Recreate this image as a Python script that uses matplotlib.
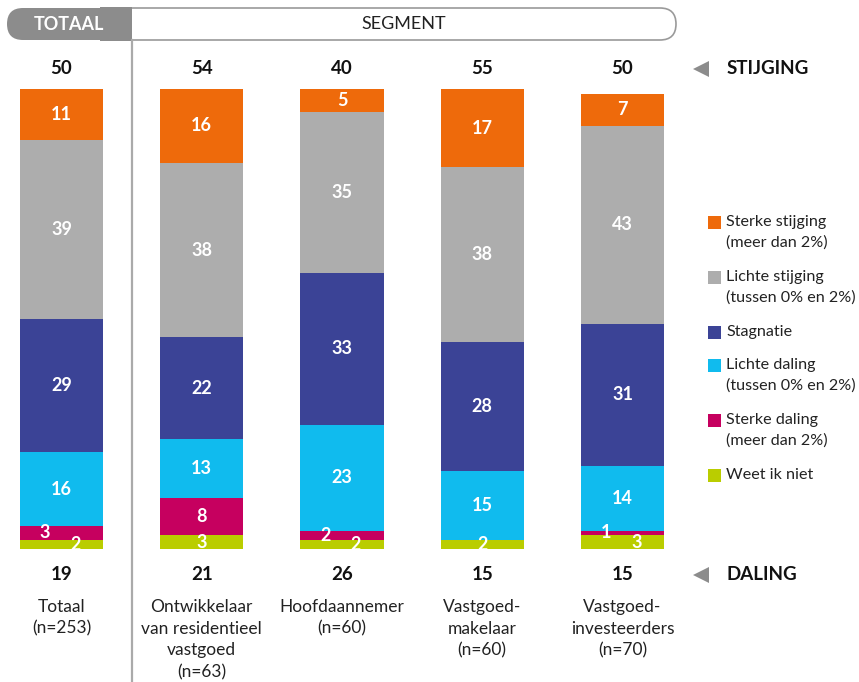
import numpy as np
import matplotlib
matplotlib.use("Agg")
import matplotlib.pyplot as plt
from matplotlib.patches import FancyBboxPatch, Rectangle, Polygon
from matplotlib.transforms import blended_transform_factory

plt.rcParams['font.family'] = ['Lato', 'DejaVu Sans']

# survey answers per segment (percentages), bottom to top of each bar
categories = ["Totaal\n(n=253)",
              "Ontwikkelaar\nvan residentieel\nvastgoed\n(n=63)",
              "Hoofdaannemer\n(n=60)",
              "Vastgoed-\nmakelaar\n(n=60)",
              "Vastgoed-\ninvesteerders\n(n=70)"]
weet_niet = [2, 3, 2, 2, 3]
sterke_daling = [3, 8, 2, 0, 1]
lichte_daling = [16, 13, 23, 15, 14]
stagnatie = [29, 22, 33, 28, 31]
lichte_stijging = [39, 38, 35, 38, 43]
sterke_stijging = [11, 16, 5, 17, 7]
stijging_totaal = [50, 54, 40, 55, 50]
daling_totaal = [19, 21, 26, 15, 15]

series = [weet_niet, sterke_daling, lichte_daling, stagnatie, lichte_stijging, sterke_stijging]
series_names = ["Weet ik niet", "Sterke daling\n(meer dan 2%)", "Lichte daling\n(tussen 0% en 2%)",
                "Stagnatie", "Lichte stijging\n(tussen 0% en 2%)", "Sterke stijging\n(meer dan 2%)"]
colors = ["#BACD00", "#C6005F", "#10BBEE", "#3B4396", "#ADADAD", "#EE6A0B"]

W, H = 859, 682
fig = plt.figure(figsize=(W / 100, H / 100), dpi=100)

# background layer in pixel units for the header, divider and legend
bg = fig.add_axes([0, 0, 1, 1])
bg.set_xlim(0, W)
bg.set_ylim(H, 0)
bg.axis("off")

# bar layer
bar_w = 0.592
unit = 140.25
x0 = 61.5 - 0.3 * unit
ax = fig.add_axes([x0 / W, (H - 549) / H, 4.6 * unit / W, 460 / H])
ax.set_xlim(-0.3, 4.3)
ax.set_ylim(0, 100)
ax.axis("off")
ax.patch.set_visible(False)

x = np.arange(len(categories))
bottom = np.zeros(len(categories))
for vals, col, name in zip(series, colors, series_names):
    vals = np.array(vals, dtype=float)
    ax.bar(x, vals, bar_w, bottom=bottom, color=col, label=name, linewidth=0)
    bottom += vals

# value labels inside the segments; two small bottom segments are staggered
for i in range(len(categories)):
    base = 0
    both_small = 0 < weet_niet[i] < 5 and 0 < sterke_daling[i] < 5
    for k, vals in enumerate(series):
        v = vals[i]
        if v > 0:
            dx = 0
            if both_small and k == 0:
                dx = 0.1
            elif both_small and k == 1:
                dx = -0.12
            ax.text(i + dx, base + v / 2, str(v), ha="center", va="center",
                    color="white", fontsize=13, fontweight="bold")
        base += v

# totals above and below the bars, category names underneath
tr = blended_transform_factory(ax.transData, bg.transData)
for i in range(len(categories)):
    ax.text(i, 69, str(stijging_totaal[i]), transform=tr, ha="center", va="center",
            fontsize=13.5, fontweight="bold", color="#111111")
    ax.text(i, 575, str(daling_totaal[i]), transform=tr, ha="center", va="center",
            fontsize=13.5, fontweight="bold", color="#111111")
    ax.text(i, 599, categories[i], transform=tr, ha="center", va="top",
            fontsize=12.5, color="#222222", linespacing=1.43)

# header boxes
bg.add_patch(FancyBboxPatch((100, 8), 576, 32, boxstyle="round,pad=0,rounding_size=16",
                            fc="white", ec="#9A9A9A", lw=1.2))
bg.add_patch(FancyBboxPatch((7, 8), 125, 32, boxstyle="round,pad=0,rounding_size=16",
                            fc="#8C8C8C", ec="none"))
bg.add_patch(Rectangle((100, 7.4), 32, 33.2, fc="#8C8C8C", ec="none"))
bg.text(69, 24, "TOTAAL", ha="center", va="center", color="white",
        fontsize=13, fontweight="bold")
bg.text(404, 24, "SEGMENT", ha="center", va="center", color="#222222", fontsize=13)
bg.plot([132, 132], [40, H], color="#AAAAAA", lw=1.6)

# stijging / daling markers
for y, txt in [(69, "STIJGING"), (575, "DALING")]:
    bg.add_patch(Polygon([(693, y), (709, y - 8), (709, y + 8)], closed=True,
                         fc="#8C8C8C", ec="none"))
    bg.text(727, y, txt, ha="left", va="center", fontsize=13.5, fontweight="bold",
            color="#111111")

# legend, top entry first
ly = 222
for name, col in zip(series_names[::-1], colors[::-1]):
    bg.add_patch(Rectangle((708, ly - 6.5), 13, 13, fc=col, ec="none"))
    bg.text(726, ly - 7, name, ha="left", va="top", fontsize=11.6, color="#222222",
            linespacing=1.56)
    ly += 22 * (name.count("\n") + 1) + 11

fig.savefig("out.png", dpi=100)
